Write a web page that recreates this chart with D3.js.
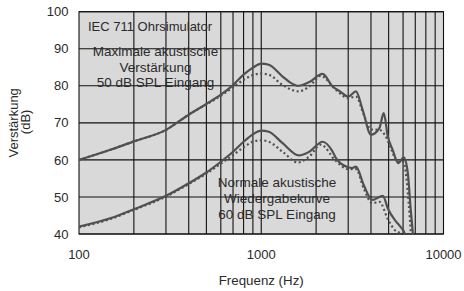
<!DOCTYPE html>
<html>
<head>
<meta charset="utf-8">
<script src="https://d3js.org/d3.v7.min.js"></script>
<style>
  body { margin: 0; background: #fff; }
  text { font-family: "Liberation Sans", Arial, sans-serif; fill: #2a2a2a; }
</style>
</head>
<body>
<svg id="chart" width="464" height="291"></svg>
<script>
// Frequenzgang (Hz) und Verstärkung (dB)
const maxFreq   = [100, 150, 200, 300, 400, 500, 600, 700, 800, 900, 1000, 1100, 1310, 1450, 1600, 1835, 2170, 2466, 2683, 3000, 3310, 3600, 4000, 4450, 4700, 4950, 5260, 5650, 6050, 6370, 6600, 6850];
const maxSolid  = [60, 62.8, 65, 68.1, 72.2, 75.1, 77.6, 80.2, 83, 84.9, 86, 85.7, 82.5, 80.8, 80.0, 81.0, 83.2, 79.8, 78.6, 77.1, 78.5, 73.5, 66.8, 68.6, 72.6, 66.3, 62.7, 59.1, 60.7, 56.5, 47, 38];
const maxDotFreq = [100, 150, 200, 300, 400, 500, 600, 700, 800, 900, 1000, 1100, 1310, 1600, 1835, 2120, 2570, 3000, 3310, 3650, 4000, 4450, 4800, 5200, 5600, 6000, 6250, 6450, 6650];
const maxDotted  = [60, 62.8, 65, 68.1, 72.2, 75.0, 77.3, 79.6, 81.6, 82.9, 83.3, 83.0, 80.2, 78.5, 79.8, 82.7, 78.9, 76.7, 77.1, 72.2, 68.2, 68.1, 66.5, 62.5, 59.5, 59.5, 55.5, 48, 39];

const normFreq  = [100, 150, 200, 300, 400, 500, 600, 700, 800, 900, 1000, 1100, 1310, 1610, 1835, 2170, 2466, 2570, 3000, 3150, 3310, 3650, 4070, 4650, 4950, 5400, 5800, 6150, 6300];
const normSolid = [42, 44.3, 46.7, 50.3, 53.7, 56.6, 59.5, 62.2, 64.9, 66.9, 67.9, 67.6, 64.5, 61.2, 62.2, 64.9, 62.2, 60.5, 58.0, 57.8, 58.2, 53.2, 49.2, 50.3, 46.9, 43.8, 42.0, 40, 37];
const normDotFreq = [100, 150, 200, 300, 400, 500, 600, 700, 800, 900, 1000, 1100, 1310, 1590, 1835, 2120, 2570, 3000, 3310, 3650, 4070, 4450, 4950, 5400, 5800, 5950];
const normDotted  = [41.8, 44.1, 46.5, 50.1, 53.5, 56.3, 59.0, 61.3, 63.4, 64.9, 65.3, 64.9, 62.2, 59.3, 60.9, 64.1, 59.7, 57.5, 57.5, 52.3, 48.3, 48.7, 44, 41.1, 40, 37];

const xTicks = [100, 1000, 10000];
const xGrid = [200, 300, 400, 500, 600, 700, 800, 900, 1000, 2000, 3000, 4000, 5000, 6000, 7000, 8000, 9000];
const yTicks = [40, 50, 60, 70, 80, 90, 100];

const labelTop = ["Maximale akustische", "Verstärkung", "50 dB SPL Eingang"];
const labelBottom = ["Normale akustische", "Wiedergabekurve", "60 dB SPL Eingang"];

const svg = d3.select("#chart");
const plotLeft = 79, plotRight = 443.5, plotTop = 11.7, plotBottom = 234;

const x = d3.scaleLog().domain([100, 10000]).range([plotLeft, plotRight]);
const y = d3.scaleLinear().domain([40, 100]).range([plotBottom, plotTop]);

// Plotfläche
svg.append("rect")
  .attr("x", plotLeft).attr("y", plotTop)
  .attr("width", plotRight - plotLeft).attr("height", plotBottom - plotTop)
  .attr("fill", "#d9d9d9");

svg.append("defs").append("clipPath").attr("id", "plot-clip")
  .append("rect")
  .attr("x", plotLeft).attr("y", plotTop)
  .attr("width", plotRight - plotLeft).attr("height", plotBottom - plotTop);

const grid = svg.append("g").attr("stroke", "#111").attr("stroke-width", 1.1);
grid.selectAll(".vline").data(xGrid).enter().append("line")
  .attr("x1", d => x(d)).attr("x2", d => x(d))
  .attr("y1", plotTop).attr("y2", plotBottom);
grid.selectAll(".hline").data(yTicks).enter().append("line")
  .attr("x1", plotLeft).attr("x2", plotRight)
  .attr("y1", d => y(d)).attr("y2", d => y(d));
grid.append("rect")
  .attr("x", plotLeft).attr("y", plotTop)
  .attr("width", plotRight - plotLeft).attr("height", plotBottom - plotTop)
  .attr("fill", "none");

// Kurvenbeschriftungen (liegen unter den Kurven)
svg.append("text").attr("x", 88).attr("y", 30.5)
  .attr("font-size", 13).text("IEC 711 Ohrsimulator");

svg.append("g").selectAll("text").data(labelTop).enter().append("text")
  .attr("x", 155.5).attr("y", (d, i) => 56 + i * 15.7)
  .attr("text-anchor", "middle").attr("font-size", 13.5).text(d => d);

svg.append("g").selectAll("text").data(labelBottom).enter().append("text")
  .attr("x", 277).attr("y", (d, i) => 186.5 + i * 16.2)
  .attr("text-anchor", "middle").attr("font-size", 13.5).text(d => d);

// Kurven
const line = d3.line()
  .x(d => x(d[0])).y(d => y(d[1]))
  .curve(d3.curveMonotoneX);

const curves = svg.append("g").attr("clip-path", "url(#plot-clip)")
  .attr("fill", "none").attr("stroke", "#505050");

const series = [
  { f: maxDotFreq, v: maxDotted, dash: "2,2.6" },
  { f: normDotFreq, v: normDotted, dash: "2,2.6" },
  { f: maxFreq, v: maxSolid, dash: null },
  { f: normFreq, v: normSolid, dash: null }
];

series.forEach(s => {
  curves.append("path")
    .datum(d3.zip(s.f, s.v))
    .attr("d", line)
    .attr("stroke-width", 2.2)
    .attr("stroke-dasharray", s.dash);
});

// Achsenbeschriftungen
svg.append("g").selectAll("text").data(yTicks).enter().append("text")
  .attr("x", 68.5).attr("y", d => y(d) + 4.6)
  .attr("text-anchor", "end").attr("font-size", 13)
  .text(d => d);

svg.append("g").selectAll("text").data(xTicks).enter().append("text")
  .attr("x", d => x(d)).attr("y", 258.5)
  .attr("text-anchor", "middle").attr("font-size", 13)
  .text(d => d);

svg.append("text").attr("x", x(1000)).attr("y", 284.5)
  .attr("text-anchor", "middle").attr("font-size", 13.3)
  .text("Frequenz (Hz)");

svg.append("text")
  .attr("transform", `translate(17.5,${(plotTop + plotBottom) / 2}) rotate(-90)`)
  .attr("text-anchor", "middle").attr("font-size", 13)
  .text("Verstärkung");
svg.append("text")
  .attr("transform", `translate(29.5,${(plotTop + plotBottom) / 2 - 1}) rotate(-90)`)
  .attr("text-anchor", "middle").attr("font-size", 13)
  .text("(dB)");
</script>
</body>
</html>
